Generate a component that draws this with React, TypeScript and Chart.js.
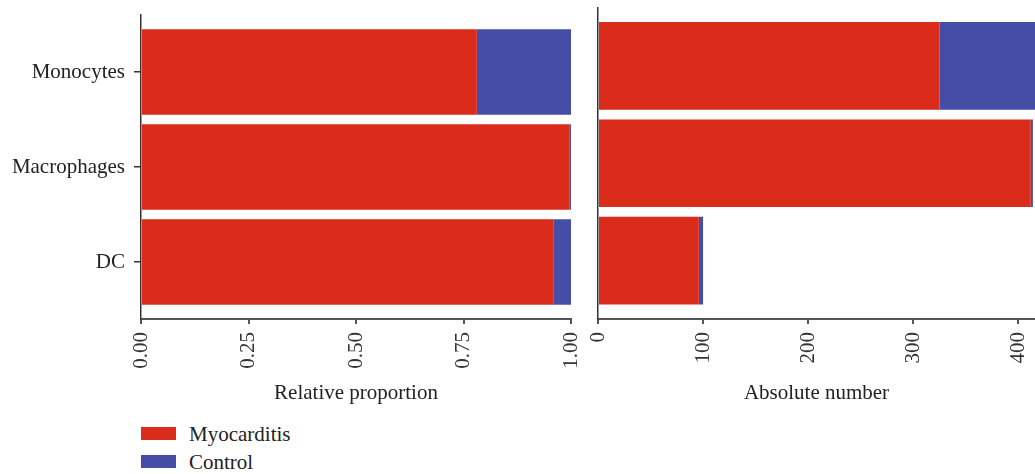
import React, { useEffect, useRef } from "react";
import { Chart, registerables } from "chart.js";

Chart.register(...registerables);

const categories = ["Monocytes", "Macrophages", "DC"];
const seriesNames = ["Myocarditis", "Control"];
const myocarditisProportion = [0.781, 0.996, 0.96];
const controlProportion = [0.219, 0.004, 0.04];
const myocarditisCount = [325, 412, 96];
const controlCount = [91, 2, 4];
const proportionTicks = [0, 0.25, 0.5, 0.75, 1];
const countTicks = [0, 100, 200, 300, 400];
const proportionMax = 1;
const countMax = 416;

const RED = "#DB2B1B";
const BLUE = "#444EA7";
const FONT = "'Liberation Serif', 'DejaVu Serif', serif";
const FS = 21;
const positions = categories.map((_, i) => categories.length - i);

function makeConfig(
  myo: number[],
  ctrl: number[],
  ticks: number[],
  max: number,
  fmt: (v: number) => string,
  title: string,
  showY: boolean,
  padTop: number,
  yWidth: number,
  padRight: number
): any {
  return {
    type: "bar",
    data: {
      datasets: [
        {
          label: seriesNames[0],
          data: myo.map((v, i) => ({ x: v, y: positions[i] })),
          backgroundColor: RED,
          borderWidth: 0,
          categoryPercentage: 0.9,
          barPercentage: 1,
        },
        {
          label: seriesNames[1],
          data: ctrl.map((v, i) => ({ x: v, y: positions[i] })),
          backgroundColor: BLUE,
          borderWidth: 0,
          categoryPercentage: 0.9,
          barPercentage: 1,
        },
      ],
    },
    options: {
      indexAxis: "y",
      animation: false,
      responsive: false,
      layout: { padding: { top: padTop, right: padRight, left: 0, bottom: 0 } },
      plugins: { legend: { display: false }, tooltip: { enabled: false } },
      scales: {
        x: {
          type: "linear",
          min: 0,
          max: max,
          stacked: true,
          afterBuildTicks: (s: any) => {
            s.ticks = ticks.map((v) => ({ value: v }));
          },
          afterFit: (s: any) => {
            s.height = 90;
            s.paddingLeft = 0;
            s.paddingRight = 0;
          },
          ticks: {
            autoSkip: false,
            minRotation: 90,
            maxRotation: 90,
            padding: 8,
            color: "#333",
            font: { family: FONT, size: FS },
            callback: (v: any) => fmt(Number(v)),
          },
          grid: {
            display: true,
            offset: false,
            drawOnChartArea: false,
            drawTicks: true,
            tickLength: 5,
            color: "#555",
            lineWidth: 2,
          },
          border: { display: true, color: "#555", width: 2 },
          title: {
            display: true,
            text: title,
            color: "#222",
            font: { family: FONT, size: FS },
            padding: { top: 0, bottom: 3 },
          },
        },
        y: {
          type: "linear",
          min: 0.4,
          max: categories.length + 0.6,
          stacked: true,
          offset: false,
          afterBuildTicks: (s: any) => {
            s.ticks = positions.map((v) => ({ value: v }));
          },
          afterFit: (s: any) => {
            s.width = yWidth;
            s.paddingTop = 0;
            s.paddingBottom = 0;
          },
          ticks: {
            display: showY,
            autoSkip: false,
            padding: 9,
            color: "#222",
            font: { family: FONT, size: FS },
            callback: (v: any) => categories[categories.length - Number(v)] ?? "",
          },
          grid: {
            display: showY,
            offset: false,
            drawOnChartArea: false,
            drawTicks: true,
            tickLength: 7,
            color: "#333",
            lineWidth: 1.5,
          },
          border: { display: true, color: "#333", width: 1.5 },
        },
      },
    },
  };
}

function BarPanel(props: { config: any; left: number; width: number; height: number }) {
  const ref = useRef<HTMLCanvasElement | null>(null);
  useEffect(() => {
    if (!ref.current) return;
    const chart = new Chart(ref.current, props.config);
    return () => chart.destroy();
  }, []);
  return (
    <canvas
      ref={ref}
      width={props.width}
      height={props.height}
      style={{ position: "absolute", left: props.left, top: 0, width: props.width, height: props.height }}
    />
  );
}

export default function App() {
  const leftConfig = makeConfig(
    myocarditisProportion,
    controlProportion,
    proportionTicks,
    proportionMax,
    (v) => v.toFixed(2),
    "Relative proportion",
    true,
    15,
    141,
    19
  );
  const rightConfig = makeConfig(
    myocarditisCount,
    controlCount,
    countTicks,
    countMax,
    (v) => String(v),
    "Absolute number",
    false,
    7.5,
    38,
    0
  );
  const legendColors = [RED, BLUE];
  return (
    <div
      style={{
        position: "fixed",
        left: 0,
        top: 0,
        width: 1035,
        height: 474,
        background: "#fff",
        overflow: "hidden",
      }}
    >
      <BarPanel config={leftConfig} left={0} width={590} height={409} />
      <BarPanel config={rightConfig} left={560} width={475} height={409} />
      {seriesNames.map((name, i) => (
        <div key={name}>
          <div
            style={{
              position: "absolute",
              left: 141,
              top: 427 + i * 28,
              width: 35,
              height: 13,
              background: legendColors[i],
            }}
          />
          <div
            style={{
              position: "absolute",
              left: 189,
              top: 433.5 + i * 28 - 12,
              height: 24,
              lineHeight: "24px",
              fontFamily: FONT,
              fontSize: FS,
              color: "#222",
              whiteSpace: "nowrap",
            }}
          >
            {name}
          </div>
        </div>
      ))}
    </div>
  );
}
